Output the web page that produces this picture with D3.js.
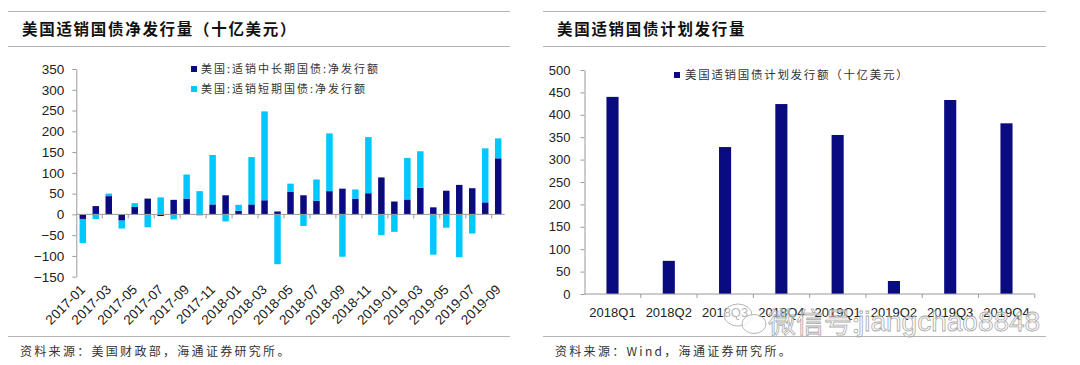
<!DOCTYPE html>
<html>
<head>
<meta charset="utf-8">
<script src="https://cdn.jsdelivr.net/npm/d3@7"></script>
<style>
body { margin: 0; background: #fff; }
svg text { font-family: "Liberation Sans", Arial, sans-serif; fill: #222; }
svg text.cjk { font-family: "Noto Sans CJK SC", sans-serif; }
</style>
</head>
<body>
<svg id="chart" width="1080" height="365"></svg>
<script>
// ---- data ----
var months = ["2017-01","2017-02","2017-03","2017-04","2017-05","2017-06","2017-07","2017-08","2017-09","2017-10","2017-11","2017-12",
              "2018-01","2018-02","2018-03","2018-04","2018-05","2018-06","2018-07","2018-08","2018-09","2018-10","2018-11","2018-12",
              "2019-01","2019-02","2019-03","2019-04","2019-05","2019-06","2019-07","2019-08","2019-09"];
var longTerm  = [-11,20,44,-15,18,38,-4,35,38,-2,24,46,9,24,34,7,54,46,33,56,62,38,51,89,31,36,64,17,57,71,63,29,135];
var shortTerm = [-58,-11,6,-19,9,-31,41,-12,58,56,119,-17,14,114,214,-120,20,-28,51,139,-102,22,135,-50,-42,100,88,-97,-32,-103,-46,130,48];
var leftTicks = [-150,-100,-50,0,50,100,150,200,250,300,350];

var quarters = ["2018Q1","2018Q2","2018Q3","2018Q4","2019Q1","2019Q2","2019Q3","2019Q4"];
var planned  = [440,74,328,424,355,29,433,381];
var rightTicks = [0,50,100,150,200,250,300,350,400,450,500];

var seriesNames = ["美国:适销中长期国债:净发行额", "美国:适销短期国债:净发行额"];
var plannedName = "美国适销国债计划发行额（十亿美元）";

var dark = "#0b0b80", light = "#00c8ff", axisCol = "#9a9a9a", frameCol = "#b4b4b4";

var svg = d3.select("#chart");

// ---- frames, titles, sources ----
function panel(x0, x1, title, source) {
  svg.append("line").attr("x1", x0).attr("x2", x1).attr("y1", 11.5).attr("y2", 11.5).attr("stroke", frameCol);
  svg.append("line").attr("x1", x0).attr("x2", x1).attr("y1", 46.5).attr("y2", 46.5).attr("stroke", frameCol);
  svg.append("line").attr("x1", x0).attr("x2", x1).attr("y1", 336.5).attr("y2", 336.5).attr("stroke", frameCol);
  svg.append("text").attr("class", "cjk").attr("x", x0 + 14).attr("y", 34.5)
    .style("font-size", "15.5px").style("font-weight", "bold").style("letter-spacing", "1.7px").style("fill", "#111")
    .text(title);
  svg.append("text").attr("class", "cjk").attr("x", x0 + 12).attr("y", 356)
    .style("font-size", "12px").style("letter-spacing", "2.3px").style("fill", "#333")
    .text(source);
}
panel(8, 510, "美国适销国债净发行量（十亿美元）", "资料来源：美国财政部，海通证券研究所。");
panel(543, 1046, "美国适销国债计划发行量", "资料来源：Wind，海通证券研究所。");

// ---- left chart: stacked net issuance ----
var xL = d3.scaleBand().domain(months).range([76.3, 504.7]).paddingInner(0.5).paddingOuter(0.25);
var yL = d3.scaleLinear().domain([-150, 350]).range([276.7, 69]);

var rows = months.map(function(m, i) { return {m: m, lt: longTerm[i], st: shortTerm[i]}; });
var stack = d3.stack().keys(["lt", "st"]).offset(d3.stackOffsetDiverging)(rows);

var gL = svg.append("g");
gL.selectAll("g.s").data(stack).enter().append("g")
  .attr("fill", function(d, i) { return i === 0 ? dark : light; })
  .selectAll("rect").data(function(d) { return d; }).enter().append("rect")
  .attr("x", function(d) { return xL(d.data.m); })
  .attr("width", xL.bandwidth())
  .attr("y", function(d) { return yL(Math.max(d[0], d[1])); })
  .attr("height", function(d) { return Math.abs(yL(d[0]) - yL(d[1])); });

var yAxisL = svg.append("g").attr("transform", "translate(76.3,0)")
  .call(d3.axisLeft(yL).tickValues(leftTicks).tickSize(4).tickPadding(8).tickSizeOuter(0));
yAxisL.select(".domain").attr("stroke", axisCol);
yAxisL.selectAll(".tick line").attr("stroke", axisCol);
yAxisL.selectAll("text").style("font-size", "13.5px").style("fill", "#222");

// x axis at zero
var stepL = xL.step();
svg.append("line").attr("x1", 76.3).attr("x2", 504.7).attr("y1", yL(0)).attr("y2", yL(0)).attr("stroke", axisCol);
svg.append("g").selectAll("line").data(d3.range(2, months.length, 2)).enter().append("line")
  .attr("x1", function(i) { return 76.3 + i * stepL; }).attr("x2", function(i) { return 76.3 + i * stepL; })
  .attr("y1", yL(0)).attr("y2", yL(0) + 4).attr("stroke", axisCol);

svg.append("g").selectAll("text").data(months.filter(function(m, i) { return i % 2 === 0; })).enter().append("text")
  .attr("transform", function(m) { return "translate(" + (xL(m) + xL.bandwidth() / 2) + ",287) rotate(-45)"; })
  .attr("text-anchor", "end").attr("dy", "0.35em")
  .style("font-size", "13.5px")
  .text(function(m) { return m; });

// legend
var legL = svg.append("g");
seriesNames.forEach(function(n, i) {
  legL.append("rect").attr("x", 191).attr("y", 66 + i * 20).attr("width", 6).attr("height", 6)
    .attr("fill", i === 0 ? dark : light);
  legL.append("text").attr("class", "cjk").attr("x", 201).attr("y", 69 + i * 20).attr("dy", "0.35em")
    .style("font-size", "11px").style("letter-spacing", "2px").style("fill", "#333").text(n);
});

// ---- right chart: planned issuance ----
var xR = d3.scaleBand().domain(quarters).range([584.5, 1034.5]).paddingInner(0.785).paddingOuter(0.39);
var yR = d3.scaleLinear().domain([0, 500]).range([294, 70]);

svg.append("g").selectAll("rect").data(quarters).enter().append("rect")
  .attr("x", function(q) { return xR(q); })
  .attr("width", xR.bandwidth())
  .attr("y", function(q, i) { return yR(planned[i]); })
  .attr("height", function(q, i) { return yR(0) - yR(planned[i]); })
  .attr("fill", dark);

var yAxisR = svg.append("g").attr("transform", "translate(584.5,0)")
  .call(d3.axisLeft(yR).tickValues(rightTicks).tickSize(4).tickPadding(10).tickSizeOuter(0));
yAxisR.select(".domain").attr("stroke", axisCol);
yAxisR.selectAll(".tick line").attr("stroke", axisCol);
yAxisR.selectAll("text").style("font-size", "13px").style("fill", "#222");

var stepR = xR.step();
svg.append("line").attr("x1", 584.5).attr("x2", 1034.5).attr("y1", yR(0)).attr("y2", yR(0)).attr("stroke", axisCol);
svg.append("g").selectAll("line").data(d3.range(1, quarters.length + 1)).enter().append("line")
  .attr("x1", function(i) { return 584.5 + i * stepR; }).attr("x2", function(i) { return 584.5 + i * stepR; })
  .attr("y1", yR(0)).attr("y2", yR(0) + 4).attr("stroke", axisCol);

svg.append("g").selectAll("text").data(quarters).enter().append("text")
  .attr("x", function(q) { return xR(q) + xR.bandwidth() / 2; })
  .attr("y", 312).attr("dy", "0.35em").attr("text-anchor", "middle")
  .style("font-size", "13px")
  .text(function(q) { return q; });

svg.append("rect").attr("x", 674).attr("y", 72).attr("width", 6).attr("height", 6).attr("fill", dark);
svg.append("text").attr("class", "cjk").attr("x", 685).attr("y", 75).attr("dy", "0.35em")
  .style("font-size", "11.5px").style("letter-spacing", "1.7px").style("fill", "#333").text(plannedName);

// ---- watermark (sits over the quarter labels, as in the source image) ----
var wm = svg.append("g").attr("opacity", 0.85);
wm.append("ellipse").attr("cx", 738).attr("cy", 315).attr("rx", 14).attr("ry", 11)
  .attr("fill", "rgba(255,255,255,0.8)").attr("stroke", "#aaa");
wm.append("ellipse").attr("cx", 754).attr("cy", 324).attr("rx", 12).attr("ry", 9.5)
  .attr("fill", "rgba(255,255,255,0.8)").attr("stroke", "#aaa");
wm.append("text").attr("class", "cjk").attr("x", 768).attr("y", 333)
  .style("font-size", "28px").style("fill", "rgba(255,255,255,0.75)").style("stroke", "#9a9a9a").style("stroke-width", "0.8px")
  .text("微信号:");
wm.append("text").attr("x", 858).attr("y", 331)
  .style("font-size", "28px").style("fill", "rgba(255,255,255,0.75)").style("stroke", "#9a9a9a").style("stroke-width", "0.8px")
  .text("jiangchao8848");
</script>
</body>
</html>
